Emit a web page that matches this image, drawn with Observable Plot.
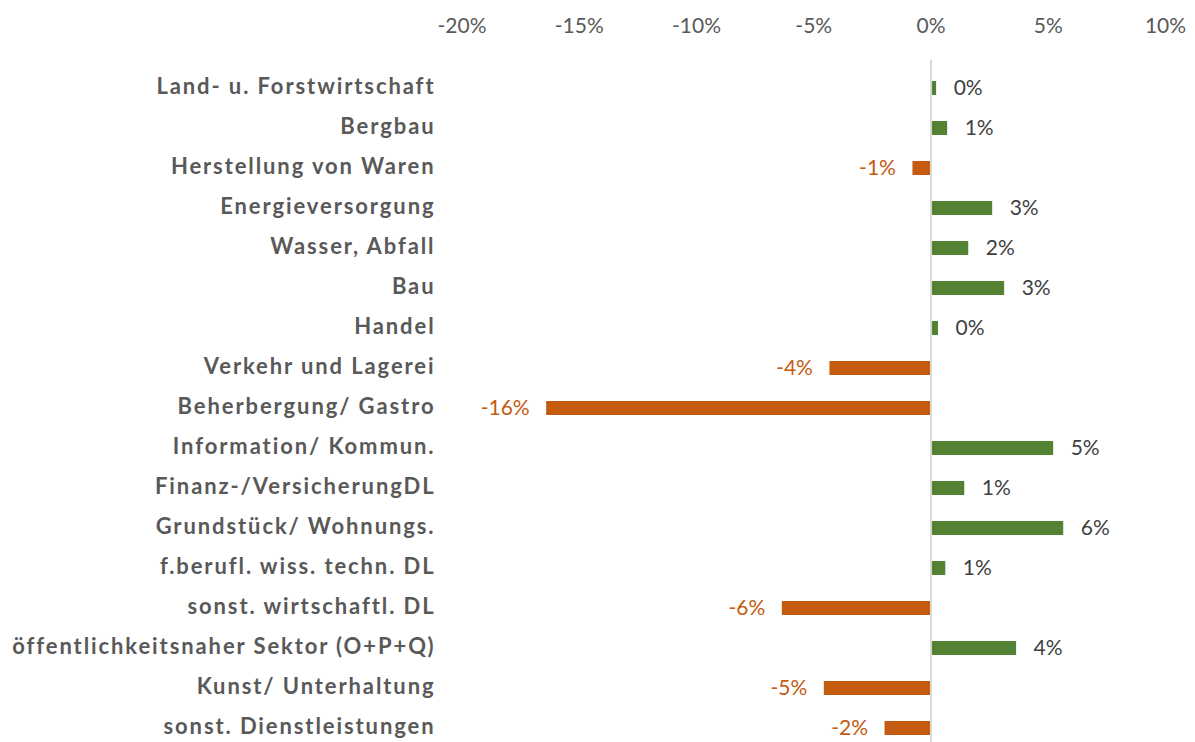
<!DOCTYPE html>
<html><head><meta charset="utf-8">
<script src="https://cdn.jsdelivr.net/npm/d3@7"></script>
<script src="https://cdn.jsdelivr.net/npm/@observablehq/plot@0.6"></script>
<style>html,body{margin:0;padding:0;background:#fff;overflow:hidden}</style>
</head><body><div id="chart"></div>
<script>
const categories = [
  "Land- u. Forstwirtschaft",
  "Bergbau",
  "Herstellung von Waren",
  "Energieversorgung",
  "Wasser, Abfall",
  "Bau",
  "Handel",
  "Verkehr und Lagerei",
  "Beherbergung/ Gastro",
  "Information/ Kommun.",
  "Finanz-/VersicherungDL",
  "Grundstück/ Wohnungs.",
  "f.berufl. wiss. techn. DL",
  "sonst. wirtschaftl. DL",
  "öffentlichkeitsnaher Sektor (O+P+Q)",
  "Kunst/ Unterhaltung",
  "sonst. Dienstleistungen"
];
const values = [0.24, 0.71, -0.77, 2.63, 1.61, 3.14, 0.32, -4.31, -16.39, 5.23, 1.44, 5.66, 0.63, -6.34, 3.65, -4.55, -1.96];
const tickValues = [-20, -15, -10, -5, 0, 5, 10];

const GREEN = "#548235", ORANGE = "#C55A11";
const data = categories.map((c, i) => ({category: c, value: values[i]}));
const pos = data.filter(d => d.value >= 0);
const neg = data.filter(d => d.value < 0);
const fmt = v => `${Math.round(v)}%`;

const chart = Plot.plot({
  width: 1195, height: 742,
  marginTop: 60, marginBottom: 0, marginLeft: 435, marginRight: 0,
  style: {fontFamily: "Lato, 'Open Sans', sans-serif", background: "white"},
  x: {domain: [-20, 10], range: [461.5, 1165], axis: null},
  y: {domain: categories, range: [63.75, 752.25], paddingInner: 0.65, paddingOuter: 0.325, axis: null},
  marks: [
    Plot.barX(pos, {x: "value", y: "category", fill: GREEN}),
    Plot.barX(neg, {x: "value", y: "category", fill: ORANGE}),
    Plot.ruleX([0], {stroke: "#d9d9d9", strokeWidth: 2}),
    Plot.text(data, {y: "category", text: "category", frameAnchor: "left", textAnchor: "end", fontWeight: "bold", fontSize: 22, fill: "#595959", dy: -2}),
    Plot.text(tickValues, {x: d => d, text: d => `${d}%`, frameAnchor: "top", dy: -42, fontSize: 21, fill: "#595959"}),
    Plot.text(pos, {x: "value", y: "category", text: d => fmt(d.value), textAnchor: "start", dx: 17, dy: 0, fontSize: 21, fill: "#404040"}),
    Plot.text(neg, {x: "value", y: "category", text: d => fmt(d.value), textAnchor: "end", dx: -17, dy: 0, fontSize: 21, fill: ORANGE})
  ]
});
d3.select(chart).selectAll('g[aria-label="text"]').filter((d, i) => i === 0).attr("letter-spacing", "1.9px");
document.getElementById("chart").appendChild(chart);
</script>
</body></html>
